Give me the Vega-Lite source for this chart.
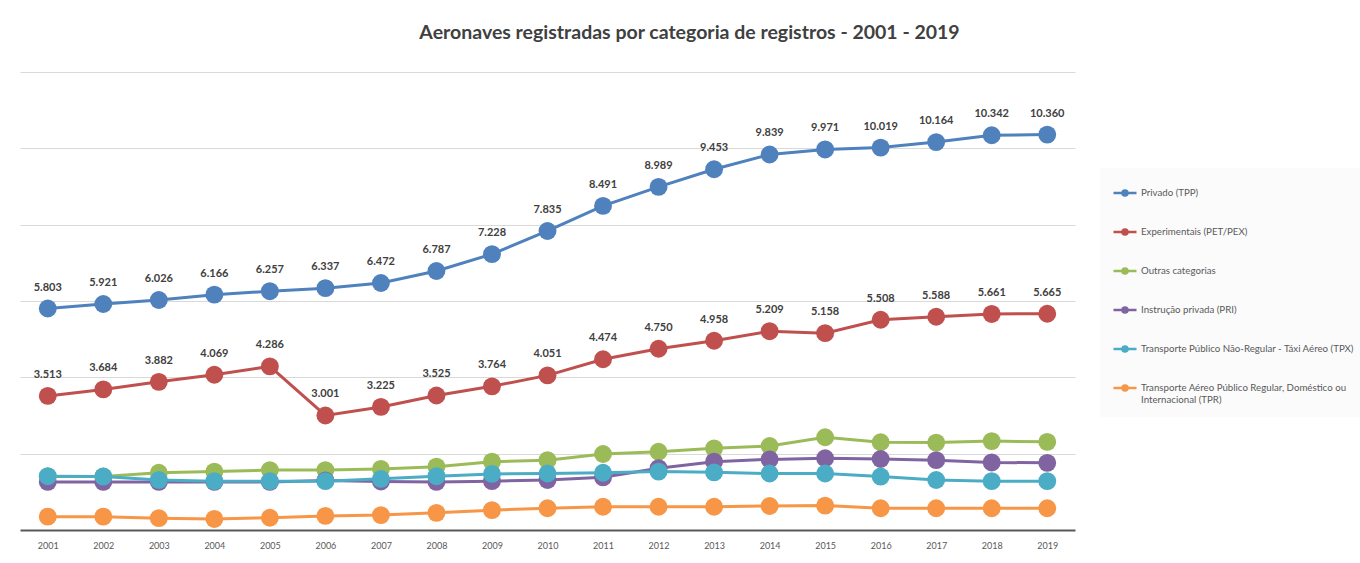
{
  "$schema": "https://vega.github.io/schema/vega-lite/v6.json",
  "autosize": {"type": "none"},
  "padding": {"left": 20, "top": 72, "right": 285, "bottom": 33},
  "width": 1055,
  "height": 458,
  "background": "white",
  "config": {
    "font": "Lato",
    "view": {"stroke": null},
    "locale": {"number": {"decimal": ",", "thousands": ".", "grouping": [3], "currency": ["R$", ""]}}
  },
  "title": {
    "text": "Aeronaves registradas por categoria de registros - 2001 - 2019",
    "font": "Lato",
    "fontSize": 19.5,
    "fontWeight": "bold",
    "color": "#404040",
    "anchor": "middle",
    "dx": 142,
    "offset": 29
  },
  "datasets": {
    "aeronaves": [
      {"ano": "2001", "categoria": "Privado (TPP)", "valor": 5803},
      {"ano": "2002", "categoria": "Privado (TPP)", "valor": 5921},
      {"ano": "2003", "categoria": "Privado (TPP)", "valor": 6026},
      {"ano": "2004", "categoria": "Privado (TPP)", "valor": 6166},
      {"ano": "2005", "categoria": "Privado (TPP)", "valor": 6257},
      {"ano": "2006", "categoria": "Privado (TPP)", "valor": 6337},
      {"ano": "2007", "categoria": "Privado (TPP)", "valor": 6472},
      {"ano": "2008", "categoria": "Privado (TPP)", "valor": 6787},
      {"ano": "2009", "categoria": "Privado (TPP)", "valor": 7228},
      {"ano": "2010", "categoria": "Privado (TPP)", "valor": 7835},
      {"ano": "2011", "categoria": "Privado (TPP)", "valor": 8491},
      {"ano": "2012", "categoria": "Privado (TPP)", "valor": 8989},
      {"ano": "2013", "categoria": "Privado (TPP)", "valor": 9453},
      {"ano": "2014", "categoria": "Privado (TPP)", "valor": 9839},
      {"ano": "2015", "categoria": "Privado (TPP)", "valor": 9971},
      {"ano": "2016", "categoria": "Privado (TPP)", "valor": 10019},
      {"ano": "2017", "categoria": "Privado (TPP)", "valor": 10164},
      {"ano": "2018", "categoria": "Privado (TPP)", "valor": 10342},
      {"ano": "2019", "categoria": "Privado (TPP)", "valor": 10360},
      {"ano": "2001", "categoria": "Experimentais (PET/PEX)", "valor": 3513},
      {"ano": "2002", "categoria": "Experimentais (PET/PEX)", "valor": 3684},
      {"ano": "2003", "categoria": "Experimentais (PET/PEX)", "valor": 3882},
      {"ano": "2004", "categoria": "Experimentais (PET/PEX)", "valor": 4069},
      {"ano": "2005", "categoria": "Experimentais (PET/PEX)", "valor": 4286},
      {"ano": "2006", "categoria": "Experimentais (PET/PEX)", "valor": 3001},
      {"ano": "2007", "categoria": "Experimentais (PET/PEX)", "valor": 3225},
      {"ano": "2008", "categoria": "Experimentais (PET/PEX)", "valor": 3525},
      {"ano": "2009", "categoria": "Experimentais (PET/PEX)", "valor": 3764},
      {"ano": "2010", "categoria": "Experimentais (PET/PEX)", "valor": 4051},
      {"ano": "2011", "categoria": "Experimentais (PET/PEX)", "valor": 4474},
      {"ano": "2012", "categoria": "Experimentais (PET/PEX)", "valor": 4750},
      {"ano": "2013", "categoria": "Experimentais (PET/PEX)", "valor": 4958},
      {"ano": "2014", "categoria": "Experimentais (PET/PEX)", "valor": 5209},
      {"ano": "2015", "categoria": "Experimentais (PET/PEX)", "valor": 5158},
      {"ano": "2016", "categoria": "Experimentais (PET/PEX)", "valor": 5508},
      {"ano": "2017", "categoria": "Experimentais (PET/PEX)", "valor": 5588},
      {"ano": "2018", "categoria": "Experimentais (PET/PEX)", "valor": 5661},
      {"ano": "2019", "categoria": "Experimentais (PET/PEX)", "valor": 5665},
      {"ano": "2001", "categoria": "Outras categorias", "valor": 1400},
      {"ano": "2002", "categoria": "Outras categorias", "valor": 1400},
      {"ano": "2003", "categoria": "Outras categorias", "valor": 1500},
      {"ano": "2004", "categoria": "Outras categorias", "valor": 1530},
      {"ano": "2005", "categoria": "Outras categorias", "valor": 1570},
      {"ano": "2006", "categoria": "Outras categorias", "valor": 1570},
      {"ano": "2007", "categoria": "Outras categorias", "valor": 1600},
      {"ano": "2008", "categoria": "Outras categorias", "valor": 1660},
      {"ano": "2009", "categoria": "Outras categorias", "valor": 1790},
      {"ano": "2010", "categoria": "Outras categorias", "valor": 1830},
      {"ano": "2011", "categoria": "Outras categorias", "valor": 1990},
      {"ano": "2012", "categoria": "Outras categorias", "valor": 2050},
      {"ano": "2013", "categoria": "Outras categorias", "valor": 2140},
      {"ano": "2014", "categoria": "Outras categorias", "valor": 2200},
      {"ano": "2015", "categoria": "Outras categorias", "valor": 2430},
      {"ano": "2016", "categoria": "Outras categorias", "valor": 2300},
      {"ano": "2017", "categoria": "Outras categorias", "valor": 2290},
      {"ano": "2018", "categoria": "Outras categorias", "valor": 2330},
      {"ano": "2019", "categoria": "Outras categorias", "valor": 2310},
      {"ano": "2001", "categoria": "Instrução privada (PRI)", "valor": 1260},
      {"ano": "2002", "categoria": "Instrução privada (PRI)", "valor": 1260},
      {"ano": "2003", "categoria": "Instrução privada (PRI)", "valor": 1260},
      {"ano": "2004", "categoria": "Instrução privada (PRI)", "valor": 1260},
      {"ano": "2005", "categoria": "Instrução privada (PRI)", "valor": 1260},
      {"ano": "2006", "categoria": "Instrução privada (PRI)", "valor": 1300},
      {"ano": "2007", "categoria": "Instrução privada (PRI)", "valor": 1270},
      {"ano": "2008", "categoria": "Instrução privada (PRI)", "valor": 1260},
      {"ano": "2009", "categoria": "Instrução privada (PRI)", "valor": 1280},
      {"ano": "2010", "categoria": "Instrução privada (PRI)", "valor": 1310},
      {"ano": "2011", "categoria": "Instrução privada (PRI)", "valor": 1380},
      {"ano": "2012", "categoria": "Instrução privada (PRI)", "valor": 1620},
      {"ano": "2013", "categoria": "Instrução privada (PRI)", "valor": 1790},
      {"ano": "2014", "categoria": "Instrução privada (PRI)", "valor": 1850},
      {"ano": "2015", "categoria": "Instrução privada (PRI)", "valor": 1880},
      {"ano": "2016", "categoria": "Instrução privada (PRI)", "valor": 1860},
      {"ano": "2017", "categoria": "Instrução privada (PRI)", "valor": 1830},
      {"ano": "2018", "categoria": "Instrução privada (PRI)", "valor": 1770},
      {"ano": "2019", "categoria": "Instrução privada (PRI)", "valor": 1760},
      {"ano": "2001", "categoria": "Transporte Público Não-Regular - Táxi Aéreo (TPX)", "valor": 1410},
      {"ano": "2002", "categoria": "Transporte Público Não-Regular - Táxi Aéreo (TPX)", "valor": 1400},
      {"ano": "2003", "categoria": "Transporte Público Não-Regular - Táxi Aéreo (TPX)", "valor": 1310},
      {"ano": "2004", "categoria": "Transporte Público Não-Regular - Táxi Aéreo (TPX)", "valor": 1280},
      {"ano": "2005", "categoria": "Transporte Público Não-Regular - Táxi Aéreo (TPX)", "valor": 1280},
      {"ano": "2006", "categoria": "Transporte Público Não-Regular - Táxi Aéreo (TPX)", "valor": 1280},
      {"ano": "2007", "categoria": "Transporte Público Não-Regular - Táxi Aéreo (TPX)", "valor": 1340},
      {"ano": "2008", "categoria": "Transporte Público Não-Regular - Táxi Aéreo (TPX)", "valor": 1410},
      {"ano": "2009", "categoria": "Transporte Público Não-Regular - Táxi Aéreo (TPX)", "valor": 1470},
      {"ano": "2010", "categoria": "Transporte Público Não-Regular - Táxi Aéreo (TPX)", "valor": 1480},
      {"ano": "2011", "categoria": "Transporte Público Não-Regular - Táxi Aéreo (TPX)", "valor": 1500},
      {"ano": "2012", "categoria": "Transporte Público Não-Regular - Táxi Aéreo (TPX)", "valor": 1530},
      {"ano": "2013", "categoria": "Transporte Público Não-Regular - Táxi Aéreo (TPX)", "valor": 1510},
      {"ano": "2014", "categoria": "Transporte Público Não-Regular - Táxi Aéreo (TPX)", "valor": 1480},
      {"ano": "2015", "categoria": "Transporte Público Não-Regular - Táxi Aéreo (TPX)", "valor": 1480},
      {"ano": "2016", "categoria": "Transporte Público Não-Regular - Táxi Aéreo (TPX)", "valor": 1400},
      {"ano": "2017", "categoria": "Transporte Público Não-Regular - Táxi Aéreo (TPX)", "valor": 1310},
      {"ano": "2018", "categoria": "Transporte Público Não-Regular - Táxi Aéreo (TPX)", "valor": 1280},
      {"ano": "2019", "categoria": "Transporte Público Não-Regular - Táxi Aéreo (TPX)", "valor": 1280},
      {"ano": "2001", "categoria": "Transporte Aéreo Público Regular, Doméstico ou Internacional (TPR)", "valor": 350},
      {"ano": "2002", "categoria": "Transporte Aéreo Público Regular, Doméstico ou Internacional (TPR)", "valor": 350},
      {"ano": "2003", "categoria": "Transporte Aéreo Público Regular, Doméstico ou Internacional (TPR)", "valor": 310},
      {"ano": "2004", "categoria": "Transporte Aéreo Público Regular, Doméstico ou Internacional (TPR)", "valor": 290},
      {"ano": "2005", "categoria": "Transporte Aéreo Público Regular, Doméstico ou Internacional (TPR)", "valor": 320},
      {"ano": "2006", "categoria": "Transporte Aéreo Público Regular, Doméstico ou Internacional (TPR)", "valor": 370},
      {"ano": "2007", "categoria": "Transporte Aéreo Público Regular, Doméstico ou Internacional (TPR)", "valor": 390},
      {"ano": "2008", "categoria": "Transporte Aéreo Público Regular, Doméstico ou Internacional (TPR)", "valor": 450},
      {"ano": "2009", "categoria": "Transporte Aéreo Público Regular, Doméstico ou Internacional (TPR)", "valor": 520},
      {"ano": "2010", "categoria": "Transporte Aéreo Público Regular, Doméstico ou Internacional (TPR)", "valor": 570},
      {"ano": "2011", "categoria": "Transporte Aéreo Público Regular, Doméstico ou Internacional (TPR)", "valor": 610},
      {"ano": "2012", "categoria": "Transporte Aéreo Público Regular, Doméstico ou Internacional (TPR)", "valor": 610},
      {"ano": "2013", "categoria": "Transporte Aéreo Público Regular, Doméstico ou Internacional (TPR)", "valor": 610},
      {"ano": "2014", "categoria": "Transporte Aéreo Público Regular, Doméstico ou Internacional (TPR)", "valor": 630},
      {"ano": "2015", "categoria": "Transporte Aéreo Público Regular, Doméstico ou Internacional (TPR)", "valor": 640},
      {"ano": "2016", "categoria": "Transporte Aéreo Público Regular, Doméstico ou Internacional (TPR)", "valor": 570},
      {"ano": "2017", "categoria": "Transporte Aéreo Público Regular, Doméstico ou Internacional (TPR)", "valor": 570},
      {"ano": "2018", "categoria": "Transporte Aéreo Público Regular, Doméstico ou Internacional (TPR)", "valor": 570},
      {"ano": "2019", "categoria": "Transporte Aéreo Público Regular, Doméstico ou Internacional (TPR)", "valor": 570}
    ]
  },
  "data": {"name": "aeronaves"},
  "encoding": {
    "x": {
      "field": "ano",
      "type": "ordinal",
      "scale": {"type": "point", "padding": 0.5},
      "axis": {
        "title": null,
        "labelAngle": 0,
        "labelFont": "Lato",
        "labelFontSize": 9,
        "labelColor": "#595959",
        "labelPadding": 11,
        "ticks": false,
        "domainColor": "#595959",
        "domainWidth": 2,
        "grid": false
      }
    },
    "y": {
      "field": "valor",
      "type": "quantitative",
      "scale": {"domain": [0, 12000], "nice": false},
      "axis": {
        "title": null,
        "values": [2000, 4000, 6000, 8000, 10000, 12000],
        "labels": false,
        "ticks": false,
        "domain": false,
        "grid": true,
        "gridColor": "#d9d9d9",
        "gridWidth": 1
      }
    },
    "color": {
      "field": "categoria",
      "type": "nominal",
      "scale": {
        "domain": [
          "Privado (TPP)",
          "Experimentais (PET/PEX)",
          "Outras categorias",
          "Instrução privada (PRI)",
          "Transporte Público Não-Regular - Táxi Aéreo (TPX)",
          "Transporte Aéreo Público Regular, Doméstico ou Internacional (TPR)"
        ],
        "range": ["#4F81BD", "#C0504D", "#9BBB59", "#8064A2", "#4BACC6", "#F79646"]
      },
      "legend": {
        "title": null,
        "orient": "none",
        "legendX": 1080,
        "legendY": 96,
        "padding": 12,
        "fillColor": "#fbfbfb",
        "rowPadding": 18,
        "symbolType": "M-1,0H1M-0.22,0A0.22,0.22,0,1,1,0.22,0A0.22,0.22,0,1,1,-0.22,0Z",
        "symbolSize": 529,
        "symbolStrokeWidth": 2.5,
        "labelOffset": 3,
        "labelFont": "Lato",
        "labelFontSize": 9.7,
        "labelColor": "#595959",
        "labelLimit": 260,
        "labelExpr": "datum.label == 'Transporte Aéreo Público Regular, Doméstico ou Internacional (TPR)' ? ['Transporte Aéreo Público Regular, Doméstico ou', 'Internacional (TPR)'] : datum.label",
        "encode": {
          "symbols": {
            "update": {
              "fill": {"scale": "color", "field": "value"},
              "stroke": {"scale": "color", "field": "value"}
            }
          }
        }
      }
    }
  },
  "layer": [
    {
      "mark": {"type": "line", "strokeWidth": 3},
      "encoding": {"detail": {"field": "categoria"}}
    },
    {
      "mark": {"type": "point", "filled": true, "opacity": 1, "size": 320, "shape": "circle"}
    },
    {
      "transform": [{"filter": "datum.categoria == 'Privado (TPP)' || datum.categoria == 'Experimentais (PET/PEX)'"}],
      "mark": {"type": "text", "font": "Lato", "fontSize": 11, "fontWeight": "bold", "dy": -21, "baseline": "middle"},
      "encoding": {
        "text": {"field": "valor", "type": "quantitative", "format": ","},
        "color": {"value": "#404040"}
      }
    }
  ]
}
